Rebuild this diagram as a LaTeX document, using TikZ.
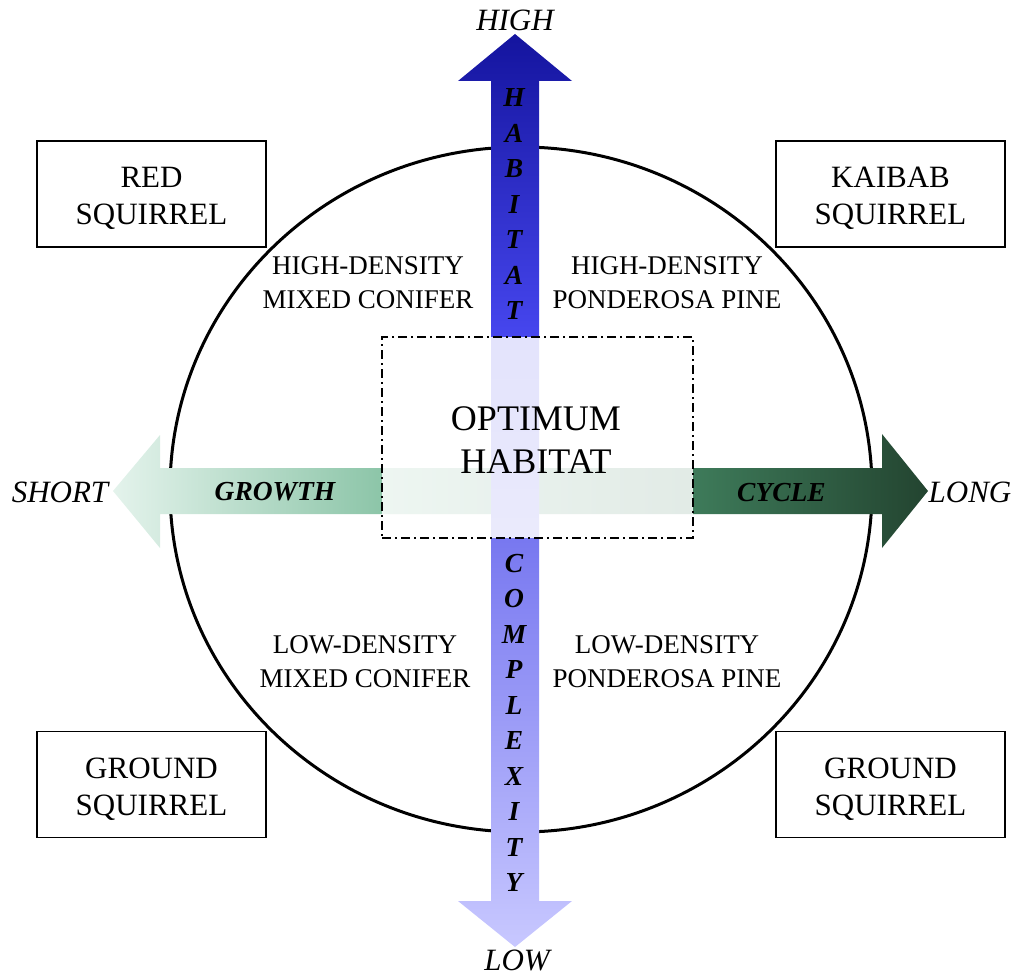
\documentclass[tikz,border=0pt]{standalone}
\usepackage{fontspec}
\setmainfont{Liberation Serif}
\definecolor{vbzero}{HTML}{C8C8FF}
\definecolor{vbone}{HTML}{7878F0}
\definecolor{vbtwo}{HTML}{4646EE}
\definecolor{vbthree}{HTML}{14149E}
\definecolor{hgzero}{HTML}{E4F3EC}
\definecolor{hgone}{HTML}{8CC5A8}
\definecolor{hgtwo}{HTML}{3E7B5A}
\definecolor{hgthree}{HTML}{234430}
\pgfdeclareverticalshading{vblue}{100bp}{color(0bp)=(vbzero); color(25bp)=(vbzero); color(47.3bp)=(vbone); color(58.5bp)=(vbtwo); color(75bp)=(vbthree); color(100bp)=(vbthree)}
\pgfdeclarehorizontalshading{hgreen}{100bp}{color(0bp)=(hgzero); color(25bp)=(hgzero); color(41.5bp)=(hgone); color(60.6bp)=(hgtwo); color(75bp)=(hgthree); color(100bp)=(hgthree)}
\tikzset{
  qlabel/.style={font=\fontsize{27}{34}\selectfont, align=center, inner sep=0pt},
  sqbox/.style={draw, line width=1.5pt, fill=white, minimum width=229pt, minimum height=106pt, inner sep=0pt},
  sqtext/.style={align=center, inner sep=0pt, font=\fontsize{31}{37}\selectfont},
  axislabel/.style={font=\fontsize{31}{37}\selectfont\itshape, inner sep=0pt, anchor=base},
  arrowlabel/.style={font=\fontsize{27.5}{35.5}\selectfont\bfseries\itshape, inner sep=0pt, align=center},
  optbox/.style={draw, line width=1.5pt, dash pattern=on 9pt off 4pt on 2pt off 4pt, fill=white, fill opacity=0.85, draw opacity=1, minimum width=311pt, minimum height=201pt, inner sep=0pt},
  opttext/.style={align=center, inner sep=0pt, font=\fontsize{36}{43}\selectfont},
  axisarrow/.style={draw=none}
}
\begin{document}
\begin{tikzpicture}[x=1pt,y=-1pt]
\useasboundingbox (0,0) rectangle (1016,976);
% circle
\draw[line width=3pt] (521,489.5) ellipse [x radius=351pt, y radius=342.5pt];
% horizontal arrow
\path[axisarrow, shading=hgreen] (160,468) -- (160,435) -- (113,491) -- (160,548) -- (160,514) -- (882,514) -- (882,548) -- (928,491) -- (882,434) -- (882,468) -- cycle;
% vertical arrow
\path[axisarrow, shading=vblue] (491,81) -- (458,81) -- (515,34) -- (572,81) -- (539,81) -- (539,901) -- (572,901) -- (515,947) -- (458,901) -- (491,901) -- cycle;
% optimum box
\node[optbox] (opt) at (537.5,437.5) {};
\node[opttext] (opttxt) at (536,440) {OPTIMUM\\HABITAT};
% arrow labels
\node[arrowlabel] (habitat) at (514,204) {H\\A\\B\\I\\T\\A\\T};
\node[arrowlabel] (complexity) at (514,723) {C\\O\\M\\P\\L\\E\\X\\I\\T\\Y};
\node[arrowlabel, anchor=base] (growth) at (275,500) {GROWTH};
\node[arrowlabel, anchor=base] (cycle) at (781.5,501) {CYCLE};
% axis end labels
\node[axislabel] (high) at (515,31) {HIGH};
\node[axislabel] (low) at (517,970.5) {LOW};
\node[axislabel] (short) at (60,502) {SHORT};
\node[axislabel] (long) at (970,502) {LONG};
% quadrant labels
\node[qlabel] (ul) at (368,283) {HIGH-DENSITY\\MIXED CONIFER};
\node[qlabel] (ur) at (667,283) {HIGH-DENSITY\\PONDEROSA PINE};
\node[qlabel] (ll) at (365,662) {LOW-DENSITY\\MIXED CONIFER};
\node[qlabel] (lr) at (667,662) {LOW-DENSITY\\PONDEROSA PINE};
% corner boxes
\node[sqbox] (red) at (151.5,194) {};
\node[sqbox] (kaibab) at (890.5,194) {};
\node[sqbox] (groundl) at (151.5,784.5) {};
\node[sqbox] (groundr) at (890.5,784.5) {};
\node[sqtext] (redtxt) at ([yshift=-4.5pt]red.center) {RED\\SQUIRREL};
\node[sqtext] (kaibabtxt) at ([yshift=-4.5pt]kaibab.center) {KAIBAB\\SQUIRREL};
\node[sqtext] (groundltxt) at ([yshift=-4.5pt]groundl.center) {GROUND\\SQUIRREL};
\node[sqtext] (groundrtxt) at ([yshift=-4.5pt]groundr.center) {GROUND\\SQUIRREL};
\end{tikzpicture}
\end{document}
